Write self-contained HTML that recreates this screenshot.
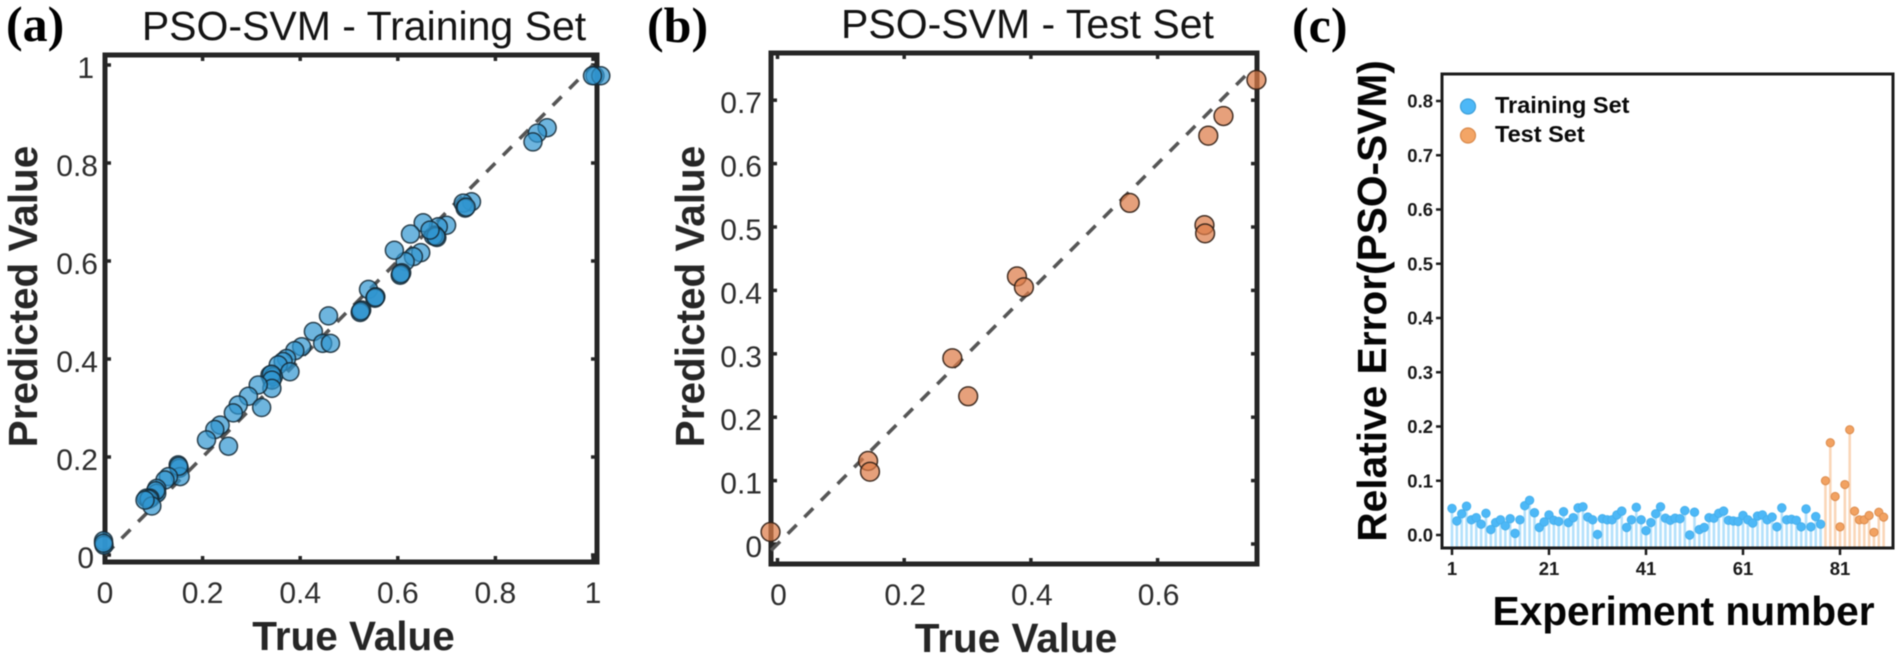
<!DOCTYPE html>
<html lang="en">
<head>
<meta charset="utf-8">
<title>PSO-SVM predicted vs true value charts</title>
<style>
  html, body { margin: 0; padding: 0; background: #fff; }
  body { width: 1902px; height: 660px; overflow: hidden; }
  svg { display: block; font-family: "Liberation Sans", sans-serif; filter: blur(0.45px); }
  .letter { font-family: "Liberation Serif", serif; font-weight: 700; font-size: 50px; fill: #000; }
  .title { font-size: 41px; fill: #141414; }
  .axis-title { font-size: 40.5px; font-weight: 700; fill: #262626; }
  .c-title { font-size: 40.7px; font-weight: 700; fill: #050505; }
  .tick { font-size: 30px; fill: #2e2e2e; }
  .c-tick { font-size: 18.5px; font-weight: 700; fill: #1a1a1a; }
  .legend-text { font-size: 23.5px; font-weight: 700; fill: #0a0a0a; }
</style>
</head>
<body>
<svg id="figure" xmlns="http://www.w3.org/2000/svg" width="1902" height="660" viewBox="0 0 1902 660">
  <rect x="0" y="0" width="1902" height="660" fill="#fff"/>

  <text class="letter" x="6" y="41">(a)</text>
  <text class="title" x="364" y="40" text-anchor="middle">PSO-SVM - Training Set</text>
  <text class="axis-title" transform="translate(37,296.5) rotate(-90)" text-anchor="middle">Predicted Value</text>
  <text class="axis-title" x="353.5" y="650" text-anchor="middle">True Value</text>
  <rect x="105" y="55" width="492" height="507" fill="none" stroke="#262626" stroke-width="5"/>
  <g id="panel-a"></g>

  <text class="letter" x="647" y="42">(b)</text>
  <text class="title" x="1027.5" y="38" text-anchor="middle">PSO-SVM - Test Set</text>
  <text class="axis-title" transform="translate(704,296.5) rotate(-90)" text-anchor="middle">Predicted Value</text>
  <text class="axis-title" x="1016" y="652" text-anchor="middle">True Value</text>
  <rect x="771" y="53" width="486" height="511" fill="none" stroke="#262626" stroke-width="5"/>
  <g id="panel-b"></g>

  <text class="letter" x="1292" y="42">(c)</text>
  <text class="c-title" transform="translate(1386,301) rotate(-90)" text-anchor="middle">Relative Error(PSO-SVM)</text>
  <text class="c-title" x="1683.5" y="625" text-anchor="middle">Experiment number</text>
  <g id="panel-c"></g>
  <rect x="1442" y="74" width="451" height="474" fill="none" stroke="#1c1c1c" stroke-width="3"/>
  <g id="panel-c-marks"></g>

  <g>
    <circle cx="1468" cy="106.5" r="7.5" fill="#4db8f7" stroke="#3e9fd8" stroke-width="1.2"/>
    <text class="legend-text" x="1495" y="113">Training Set</text>
    <circle cx="1468" cy="135.5" r="7.5" fill="#f3a566" stroke="#d98a4c" stroke-width="1.2"/>
    <text class="legend-text" x="1495" y="142">Test Set</text>
  </g>
</svg>

<script>
// ---- Panel (a) data ----
const trainTrue = [0.751,0.734,0.738,0.740,0.700,0.683,0.676,0.680,0.673,0.678,0.652,0.666,0.626,0.647,0.632,0.615,0.593,0.608,0.605,0.606,0.540,0.555,0.553,0.554,0.526,0.523,0.524,0.458,0.427,0.446,0.462,0.403,0.389,0.372,0.365,0.355,0.379,0.342,0.338,0.345,0.341,0.342,0.342,0.314,0.294,0.273,0.263,0.321,0.236,0.225,0.208,0.253,0.150,0.152,0.154,0.151,0.130,0.123,0.106,0.106,0.104,0.092,0.085,0.090,0.096,0.082,-0.003,-0.002,-0.003,0.906,0.886,0.877,1.004,1.016,0.999];
const trainPredicted = [0.721,0.718,0.708,0.710,0.673,0.670,0.653,0.648,0.651,0.650,0.678,0.663,0.655,0.617,0.609,0.599,0.622,0.576,0.571,0.574,0.542,0.527,0.524,0.526,0.500,0.495,0.498,0.488,0.456,0.432,0.432,0.425,0.417,0.401,0.395,0.388,0.374,0.367,0.367,0.364,0.369,0.357,0.340,0.347,0.324,0.306,0.290,0.301,0.265,0.256,0.235,0.222,0.184,0.177,0.160,0.181,0.160,0.153,0.136,0.126,0.131,0.116,0.116,0.114,0.100,0.112,0.029,0.020,0.024,0.872,0.861,0.843,0.978,0.978,0.978];
const aTicks = [0,0.2,0.4,0.6,0.8,1];
const aTickLabels = ['0','0.2','0.4','0.6','0.8','1'];

// ---- Panel (b) data ----
const testTrue = [-0.011,0.143,0.146,0.276,0.301,0.378,0.389,0.556,0.674,0.675,0.680,0.704,0.756];
const testPredicted = [0.019,0.131,0.114,0.293,0.233,0.422,0.405,0.538,0.503,0.490,0.644,0.675,0.732];
const bXTicks = [0,0.2,0.4,0.6];
const bXTickLabels = ['0','0.2','0.4','0.6'];
const bYTicks = [0,0.1,0.2,0.3,0.4,0.5,0.6,0.7];
const bYTickLabels = ['0','0.1','0.2','0.3','0.4','0.5','0.6','0.7'];

// ---- Panel (c) data ----
const trainingErrors = [0.049,0.026,0.039,0.053,0.028,0.032,0.020,0.040,0.010,0.023,0.028,0.017,0.030,0.003,0.028,0.054,0.064,0.041,0.014,0.024,0.037,0.027,0.025,0.043,0.023,0.032,0.050,0.052,0.033,0.028,0.001,0.030,0.028,0.028,0.037,0.044,0.014,0.028,0.051,0.028,0.008,0.023,0.039,0.052,0.031,0.027,0.031,0.030,0.045,0.000,0.042,0.010,0.014,0.032,0.031,0.040,0.044,0.027,0.026,0.025,0.036,0.028,0.022,0.035,0.037,0.028,0.033,0.015,0.050,0.028,0.029,0.027,0.015,0.048,0.015,0.034,0.020];
const testErrors = [0.100,0.170,0.071,0.015,0.093,0.194,0.044,0.028,0.028,0.036,0.005,0.042,0.033];
const cXTicks = [1,21,41,61,81];
const cXTickLabels = ['1','21','41','61','81'];
const cYTicks = [0,0.1,0.2,0.3,0.4,0.5,0.6,0.7,0.8];
const cYTickLabels = ['0.0','0.1','0.2','0.3','0.4','0.5','0.6','0.7','0.8'];

// ---- Axis functions ----
function axA_x(v) { return 105 + 488 * v; }
function axA_y(v) { return 555 - 490 * v; }
function axB_x(v) { return 777.5 + 633.5 * v; }
function axB_y(v) { return 544 - 634 * v; }
function axC_x(n) { return 1452 + 4.85 * (n - 1); }
function axC_y(v) { return 535 - 542.5 * v; }

const NS = 'http://www.w3.org/2000/svg';
function make(parent, tag, props, content) {
  const el = document.createElementNS(NS, tag);
  for (const k in props) el.setAttribute(k, props[k]);
  if (content !== undefined) el.textContent = content;
  parent.appendChild(el);
  return el;
}

const plotA = document.getElementById('panel-a');
const plotB = document.getElementById('panel-b');
const plotC = document.getElementById('panel-c');
const marksC = document.getElementById('panel-c-marks');

function tickMark(parent, x1, y1, x2, y2, color, width) {
  const el = make(parent, 'line', { x1: x1, y1: y1, x2: x2, y2: y2, stroke: color, 'stroke-width': width });
  
  
  return el;
}

// Panel (a) ticks
aTicks.forEach(function (v, i) {
  const x = axA_x(v);
  const y = axA_y(v);
  tickMark(plotA, x, 562, x, 556, '#262626', 3.5);
  tickMark(plotA, x, 55, x, 61, '#262626', 3.5);
  tickMark(plotA, 105, y, 111, y, '#262626', 3.5);
  tickMark(plotA, 597, y, 591, y, '#262626', 3.5);
  const xl = make(plotA, 'text', { class: 'tick', x: x, y: 603, 'text-anchor': 'middle' }, aTickLabels[i]);
  
  
  const yl = make(plotA, 'text', { class: 'tick', x: aTickLabels[i].length === 1 ? 94 : 98, y: y + 13, 'text-anchor': 'end' }, aTickLabels[i]);
  
  
});

// Panel (a) identity line
const lineA = make(plotA, 'line', { x1: axA_x(0), y1: axA_y(0), x2: axA_x(1), y2: axA_y(1), stroke: '#555', 'stroke-width': 3.6, 'stroke-dasharray': '12.5 11' });



// Panel (a) points
trainTrue.forEach(function (t, i) {
  const c = make(plotA, 'circle', { cx: axA_x(t), cy: axA_y(trainPredicted[i]), r: 9, fill: 'rgba(48,150,208,0.7)', stroke: 'rgba(20,40,52,0.85)', 'stroke-width': 1.5 });
  
  
});

// Panel (b) ticks
bXTicks.forEach(function (v, i) {
  const x = axB_x(v);
  tickMark(plotB, x, 564, x, 558, '#262626', 3.5);
  tickMark(plotB, x, 53, x, 59, '#262626', 3.5);
  const xl = make(plotB, 'text', { class: 'tick', x: x + 1, y: 605, 'text-anchor': 'middle' }, bXTickLabels[i]);
  
  
});
bYTicks.forEach(function (v, i) {
  const y = axB_y(v);
  tickMark(plotB, 771, y, 777, y, '#262626', 3.5);
  tickMark(plotB, 1257, y, 1251, y, '#262626', 3.5);
  const yl = make(plotB, 'text', { class: 'tick', x: 762, y: y + 13, 'text-anchor': 'end' }, bYTickLabels[i]);
  
  
});

// Panel (b) identity line
const lineB = make(plotB, 'line', { x1: axB_x(-0.01), y1: axB_y(-0.01), x2: axB_x(0.74), y2: axB_y(0.74), stroke: '#555', 'stroke-width': 3.6, 'stroke-dasharray': '12.5 11' });



// Panel (b) points
testTrue.forEach(function (t, i) {
  const c = make(plotB, 'circle', { cx: axB_x(t), cy: axB_y(testPredicted[i]), r: 9.4, fill: 'rgba(221,124,72,0.72)', stroke: 'rgba(50,32,22,0.9)', 'stroke-width': 1.5 });
  
  
});

// Panel (c) ticks
cXTicks.forEach(function (n, i) {
  const x = axC_x(n);
  tickMark(marksC, x, 548, x, 555, '#1c1c1c', 2.5);
  const xl = make(marksC, 'text', { class: 'c-tick', x: x, y: 575, 'text-anchor': 'middle' }, cXTickLabels[i]);
  
  
});
cYTicks.forEach(function (v, i) {
  const y = axC_y(v);
  tickMark(marksC, 1436, y, 1442, y, '#1c1c1c', 2.5);
  const yl = make(marksC, 'text', { class: 'c-tick', x: 1433, y: y + 6.5, 'text-anchor': 'end' }, cYTickLabels[i]);
  
  
});

// Panel (c) stems and markers
trainingErrors.forEach(function (v, i) {
  const x = axC_x(i + 1);
  const s = make(plotC, 'line', { x1: x, y1: 548, x2: x, y2: axC_y(v), stroke: '#b4e1fb', 'stroke-width': 2.6 });
  
  
  const m = make(marksC, 'circle', { cx: x, cy: axC_y(v), r: 4.3, fill: '#4db8f7', stroke: '#45aeea', 'stroke-width': 0.8 });
  
  
});
testErrors.forEach(function (v, i) {
  const x = axC_x(trainingErrors.length + i + 1);
  const s = make(plotC, 'line', { x1: x, y1: 548, x2: x, y2: axC_y(v), stroke: '#fad6b8', 'stroke-width': 2.6 });
  
  
  const m = make(marksC, 'circle', { cx: x, cy: axC_y(v), r: 4.1, fill: '#f2a262', stroke: '#dc8d4f', 'stroke-width': 1 });
  
  
});
</script>
</body>
</html>
